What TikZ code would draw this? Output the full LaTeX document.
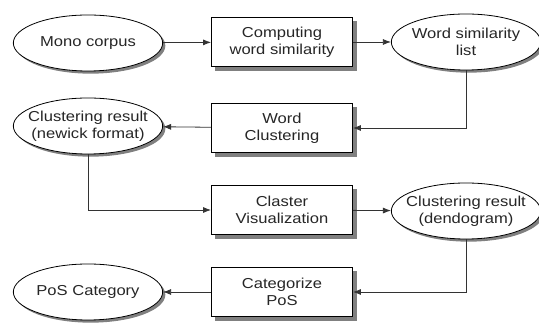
\documentclass[tikz,border=0pt]{standalone}
\usepackage{fontspec}
\setmainfont{Liberation Sans}[FakeStretch=1.15]
\usetikzlibrary{shapes.geometric,shadows,arrows.meta}

\begin{document}
\begin{tikzpicture}[
  x=0.75pt, y=-0.75pt,
  every node/.style={font=\fontsize{10.8}{13}\selectfont, align=center, text=black!85},
  process/.style={shape=rectangle, draw, fill=white, minimum width=106pt, minimum height=37pt,
    drop shadow={shadow xshift=3pt, shadow yshift=-3pt, opacity=1, fill=black!50}},
  data/.style={shape=ellipse, draw, line width=0.6pt, fill=white, minimum width=112pt, minimum height=42pt,
    inner xsep=-20pt, inner ysep=-3pt,
    drop shadow={shadow xshift=2pt, shadow yshift=-2pt, opacity=1, fill=black!50}},
  flow/.style={draw, -{Latex[length=6pt,width=4.5pt]}, black!80, line width=0.6pt}
]
\useasboundingbox (0,0) rectangle (539,323);
% first row
\node [data] (corpus) at (88,43) {Mono corpus};
\node [process] (computing) at (282,42) {Computing\\word similarity};
\node [data] (simlist) at (466,42) {Word similarity\\list};
% second row
\node [process] (clustering) at (282,128) {Word\\Clustering};
\node [data] (newick) at (88,126) {Clustering result\\(newick format)};
% third row
\node [process] (visual) at (282,210) {Claster\\Visualization};
\node [data] (dendogram) at (466,211) {Clustering result\\(dendogram)};
% last row
\node [process] (categorize) at (282,292) {Categorize\\PoS};
\node [data] (category) at (88,292) {PoS Category};

\draw [flow] (corpus) -- (computing);
\draw [flow] (computing) -- (simlist);
\draw [flow] (simlist.south) |- (clustering.east);
\draw [flow] (clustering) -- (newick);
\draw [flow] (newick.south) |- (visual.west);
\draw [flow] (visual) -- (dendogram);
\draw [flow] (dendogram.south) |- (categorize.east);
\draw [flow] (categorize) -- (category);
\end{tikzpicture}
\end{document}
